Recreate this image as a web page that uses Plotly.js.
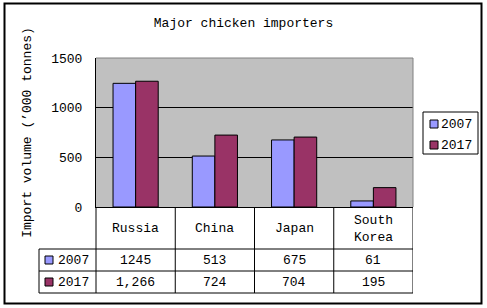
<!DOCTYPE html>
<html>
<head>
<meta charset="utf-8">
<script src="https://cdn.plot.ly/plotly-3.0.1.min.js"></script>
<style>html,body{margin:0;padding:0;background:#fff;}#chart{width:487px;height:308px;}</style>
</head>
<body>
<div id="chart"></div>
<script>
// ---- data ----
const categories = ['Russia', 'China', 'Japan', 'South Korea'];
const categoryLabels = ['Russia', 'China', 'Japan', 'South<br>Korea'];
const seriesNames = ['2007', '2017'];
const values2007 = [1245, 513, 675, 61];
const values2017 = [1266, 724, 704, 195];
const tableRow2007 = ['1245', '513', '675', '61'];
const tableRow2017 = ['1,266', '724', '704', '195'];
const yTickVals = [0, 500, 1000, 1500];
const yTickText = ['0', '500', '1000', '1500'];

// ---- style / geometry ----
const colors = ['#9999FF', '#993366'];
const FONT = 'Liberation Mono, DejaVu Sans Mono, monospace';
const W = 487, H = 308, L = 96, R = 413, T = 58, B = 207;
const px = x => (x - L) / (R - L);
const py = y => (B - y) / (B - T);

const traces = [
  {type: 'bar', name: seriesNames[0], x: categories, y: values2007,
   marker: {color: colors[0], line: {color: '#000', width: 1}}},
  {type: 'bar', name: seriesNames[1], x: categories, y: values2017,
   marker: {color: colors[1], line: {color: '#000', width: 1}}}
];

const line = (x0, y0, x1, y1, color, width, xref) => ({
  type: 'line', xref: xref || 'paper', yref: 'paper',
  x0: x0, y0: y0, x1: x1, y1: y1, layer: 'above',
  line: {color: color || '#000', width: width || 1}
});

const shapes = [];
// outer frame
shapes.push({type: 'rect', xref: 'paper', yref: 'paper',
  x0: px(4.5), x1: px(481.5), y0: py(303.5), y1: py(3.5),
  line: {color: '#000', width: 2}, layer: 'above'});
// plot area top/right border (gray)
shapes.push(line(0, 1, 1, 1, '#808080', 1));
shapes.push(line(1, 0, 1, 1, '#808080', 1));
// table horizontal lines
[249, 271, 293].forEach(y => shapes.push(line(px(39), py(y), 1, py(y))));
// table vertical lines
shapes.push(line(px(39), py(249), px(39), py(293)));
shapes.push(line(0, 0, 0, py(293)));
for (let i = 0; i < categories.length; i++) {
  shapes.push(line(i + 0.5, 0, i + 0.5, py(293), '#000', 1, 'x'));
}
// legend box
shapes.push({type: 'rect', xref: 'paper', yref: 'paper',
  x0: px(423), x1: px(478), y0: py(154), y1: py(112),
  line: {color: '#000', width: 1}, layer: 'above'});

const annotations = [];
const txt = (o) => Object.assign({showarrow: false, font: {family: FONT, size: 13, color: '#000'}}, o);
// table header (categories)
categoryLabels.forEach((c, i) => annotations.push(txt({xref: 'x', yref: 'paper', x: i, y: py(228.5), text: c, yanchor: 'middle'})));
// table values
const rows = [tableRow2007, tableRow2017];
const rowY = [260, 282];
rows.forEach((row, r) => {
  row.forEach((v, i) => annotations.push(txt({xref: 'x', yref: 'paper', x: i, y: py(rowY[r]), text: v, yanchor: 'middle'})));
  // row label with key
  annotations.push(txt({xref: 'paper', yref: 'paper', x: px(56), y: py(rowY[r]), text: seriesNames[r], xanchor: 'left', yanchor: 'middle'}));
  shapes.push({type: 'rect', xref: 'paper', yref: 'paper', x0: px(45), x1: px(53), y0: py(rowY[r] + 4), y1: py(rowY[r] - 4),
    fillcolor: colors[r], line: {color: '#000', width: 1}, layer: 'above'});
});
// legend items
const legY = [124, 145];
seriesNames.forEach((n, r) => {
  annotations.push(txt({xref: 'paper', yref: 'paper', x: px(439), y: py(legY[r]), text: n, xanchor: 'left', yanchor: 'middle'}));
  shapes.push({type: 'rect', xref: 'paper', yref: 'paper', x0: px(430), x1: px(438), y0: py(legY[r] + 4), y1: py(legY[r] - 4),
    fillcolor: colors[r], line: {color: '#000', width: 1}, layer: 'above'});
});

const layout = {
  width: W, height: H,
  margin: {l: L, r: W - R, t: T, b: H - B, pad: 0},
  paper_bgcolor: '#fff', plot_bgcolor: '#C0C0C0',
  font: {family: FONT, size: 13, color: '#000'},
  showlegend: false,
  barmode: 'group', bargap: 0.43, bargroupgap: 0,
  title: {text: 'Major chicken importers', xref: 'container', yref: 'container',
          x: 0.5, xanchor: 'center', y: 1 - 22 / H, yanchor: 'middle',
          font: {family: FONT, size: 13, color: '#000'}},
  xaxis: {type: 'category', range: [-0.5, 3.5], showticklabels: false, ticks: '',
          showline: true, linecolor: '#000', linewidth: 1, showgrid: false, fixedrange: true},
  yaxis: {range: [0, 1500], tickvals: yTickVals, ticktext: yTickText,
          ticks: 'inside', ticklen: 4, tickcolor: '#000',
          showline: true, linecolor: '#000', linewidth: 1,
          showgrid: true, gridcolor: '#000', gridwidth: 1, zeroline: false,
          ticklabelstandoff: 10,
          tickfont: {family: FONT, size: 13, color: '#000'},
          title: {text: 'Import volume (’000 tonnes)', standoff: 16,
                  font: {family: FONT, size: 13, color: '#000'}},
          fixedrange: true},
  shapes: shapes,
  annotations: annotations
};

Plotly.newPlot('chart', traces, layout, {staticPlot: true, displayModeBar: false});
</script>
</body>
</html>
